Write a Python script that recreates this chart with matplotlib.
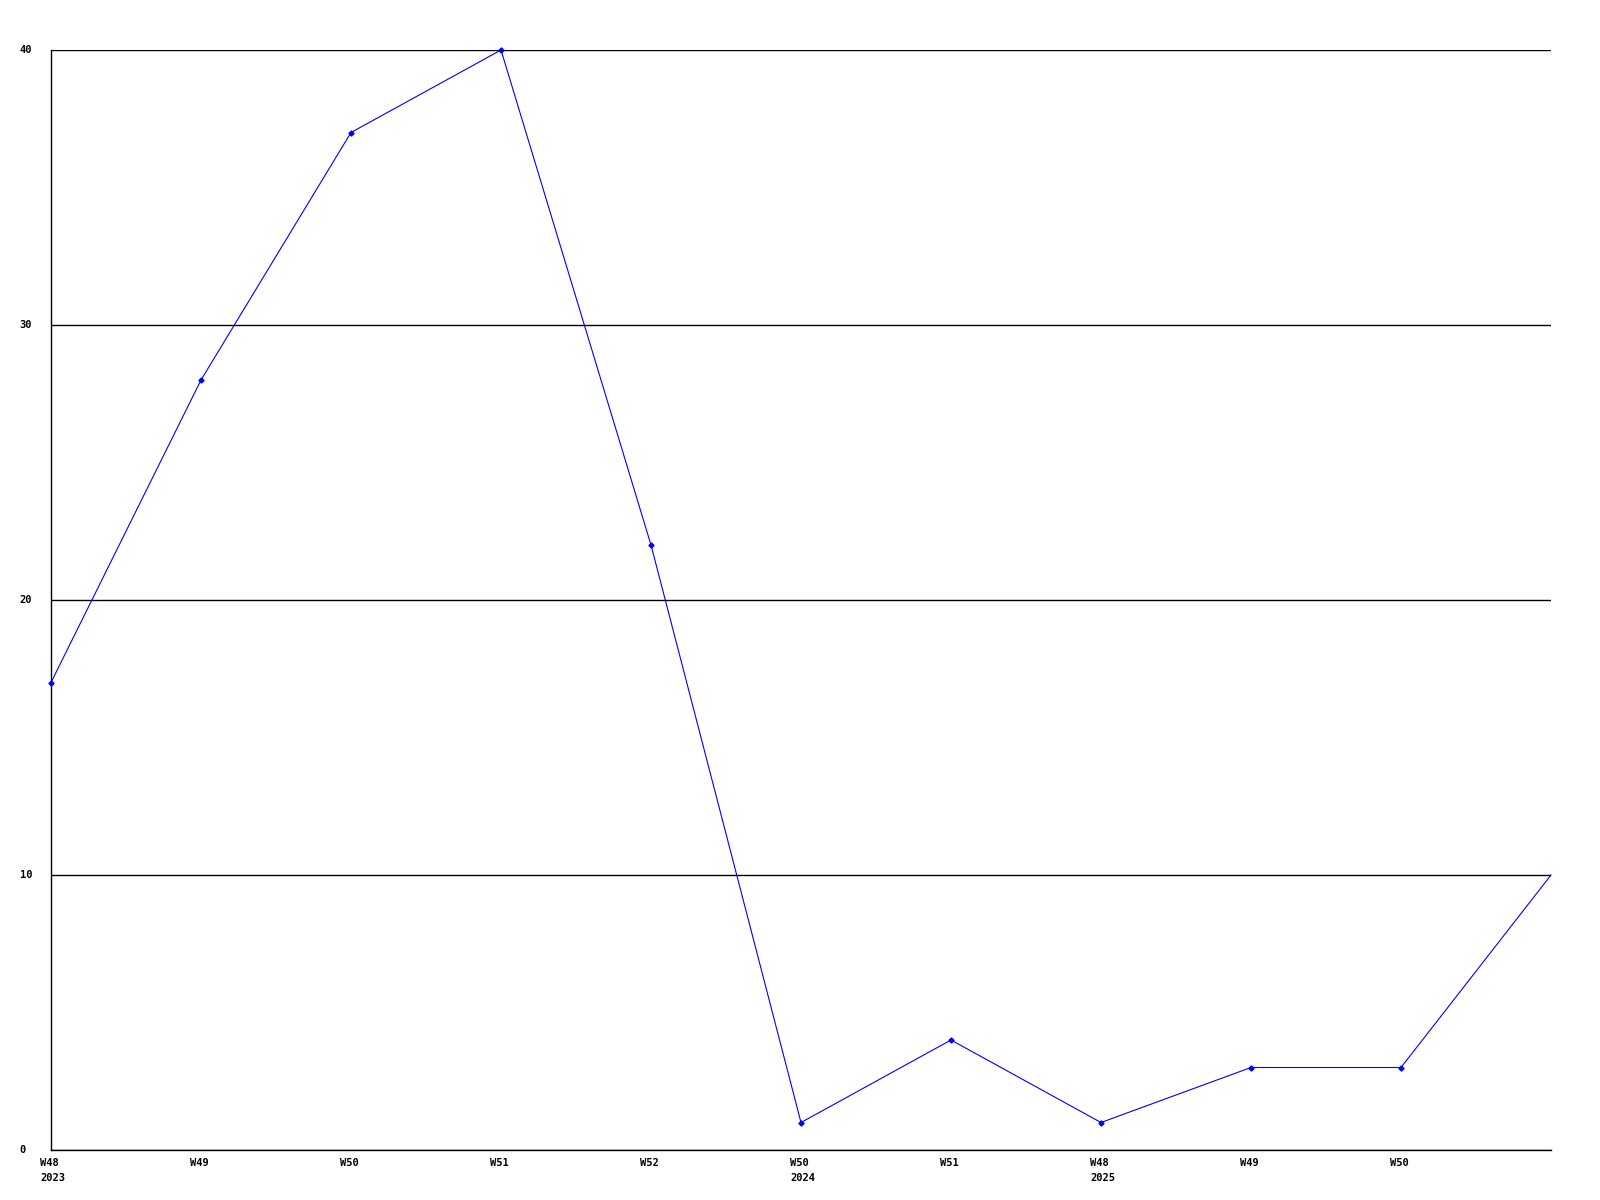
import matplotlib
matplotlib.use('Agg')
import matplotlib.pyplot as plt
import matplotlib.transforms as mtransforms

# weekly counts
week_labels = ['W48\n2023', 'W49', 'W50', 'W51', 'W52',
               'W50\n2024', 'W51', 'W48\n2025', 'W49', 'W50']
values = [17, 28, 37, 40, 22, 1, 4, 1, 3, 3, 10]
y_ticks = [0, 10, 20, 30, 40]

plt.rcParams['font.family'] = 'DejaVu Sans Mono'
plt.rcParams['font.weight'] = 'bold'

fig = plt.figure(figsize=(16, 12), dpi=100)
ax = fig.add_axes([51 / 1600, 1 - 1150 / 1200, 1500 / 1600, 1100 / 1200])

ax.set_yticks(y_ticks)
ax.yaxis.grid(True, color='black', linewidth=1.0)
ax.set_axisbelow(True)

x = list(range(len(values)))
# the last point has no marker in the original
ax.plot(x, values, color='#0000ff', linewidth=0.8, marker='D',
        markersize=2.6, markevery=list(range(len(values) - 1)),
        clip_on=False, zorder=3)

ax.set_xlim(0, len(values) - 1)
ax.set_ylim(0, 40)
ax.set_xticks(range(len(week_labels)))
ax.set_xticklabels(week_labels, fontsize=7.5, fontweight='bold',
                   ha='left', va='top', linespacing=1.6)
ax.set_yticklabels([str(v) for v in y_ticks], fontsize=7.5,
                   fontweight='bold', ha='left', va='center')

ax.tick_params(axis='both', length=0)
ax.tick_params(axis='x', pad=6)
ax.tick_params(axis='y', pad=22.5)

# shift x labels so they start slightly left of the tick
shift = mtransforms.ScaledTranslation(-11 / 100, 0, fig.dpi_scale_trans)
for lab in ax.get_xticklabels():
    lab.set_transform(lab.get_transform() + shift)

for s in ['top', 'right']:
    ax.spines[s].set_visible(False)
for s in ['left', 'bottom']:
    ax.spines[s].set_linewidth(1.0)
    ax.spines[s].set_color('black')

fig.savefig('out.png', dpi=100)
